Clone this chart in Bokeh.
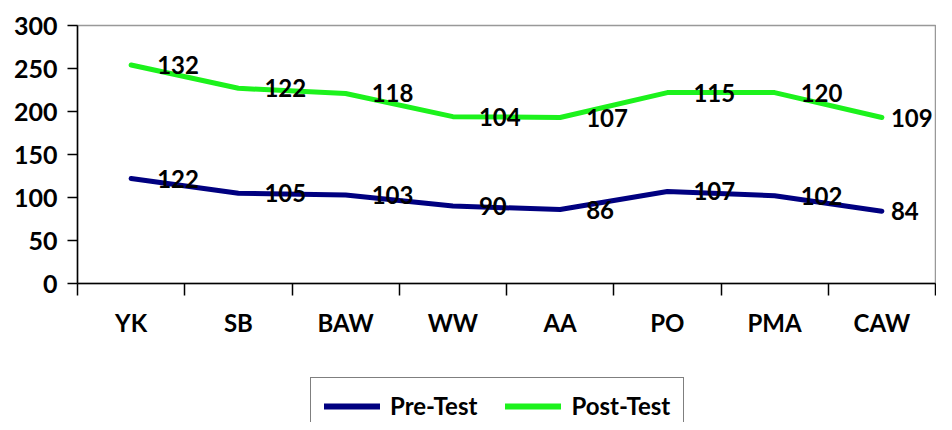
import numpy as np
from bokeh.plotting import figure
from bokeh.layouts import column
from bokeh.models import (ColumnDataSource, FixedTicker, LinearAxis, Range1d,
                          LabelSet, Legend, LegendItem)
from bokeh.core.properties import value
from bokeh.embed import file_html
from bokeh.resources import INLINE

categories = ["YK", "SB", "BAW", "WW", "AA", "PO", "PMA", "CAW"]
pre_test = [122, 105, 103, 90, 86, 107, 102, 84]
post_test = [132, 122, 118, 104, 107, 115, 120, 109]
y_ticks = [0, 50, 100, 150, 200, 250, 300]
series_names = ["Pre-Test", "Post-Test"]
series_colors = ["#000080", "#1CF21C"]

FONT = "Lato"
n = len(categories)
x = np.arange(n) + 0.5
pre = np.array(pre_test)
post_stacked = pre + np.array(post_test)
# data labels sit right of each point; the last one is nudged to stay inside
label_dx = [26] * (n - 1) + [9]

src = ColumnDataSource(dict(
    x=x, pre=pre, post=post_stacked, dx=label_dx,
    pre_lbl=[str(v) for v in pre_test],
    post_lbl=[str(v) for v in post_test],
))

W = 936
LEFT = 77
H1 = 374
p = figure(width=W, height=H1, output_backend="svg", toolbar_location=None,
           x_range=Range1d(0, n), y_range=Range1d(0, 300),
           x_axis_type=None, y_axis_type=None,
           min_border_left=LEFT, min_border_right=1, min_border_top=25,
           min_border_bottom=H1 - 283)
p.outline_line_color = "#999999"
p.outline_line_width = 1.5

# Y axis
yax = LinearAxis(ticker=FixedTicker(ticks=y_ticks))
yax.axis_line_color = "black"
yax.axis_line_width = 1.5
yax.major_tick_line_color = "black"
yax.major_tick_line_width = 1.5
yax.major_tick_out = 10
yax.major_tick_in = 0
yax.minor_tick_line_color = None
yax.major_label_standoff = 10
yax.major_label_text_font = FONT
yax.major_label_text_font_style = "bold"
yax.major_label_text_font_size = "25px"
yax.major_label_text_color = "black"
p.add_layout(yax, "left")

# X axis: labels at category centres, ticks at category boundaries
xax = LinearAxis(ticker=FixedTicker(ticks=list(x), minor_ticks=list(range(n + 1))))
xax.major_label_overrides = {float(v): c for v, c in zip(x, categories)}
xax.axis_line_color = "black"
xax.axis_line_width = 1.5
xax.major_tick_line_color = None
xax.major_tick_out = 0
xax.major_tick_in = 0
xax.minor_tick_line_color = "black"
xax.minor_tick_line_width = 1.5
xax.minor_tick_out = 12
xax.minor_tick_in = 0
xax.major_label_standoff = 12
xax.major_label_text_font = FONT
xax.major_label_text_font_style = "bold"
xax.major_label_text_font_size = "24px"
xax.major_label_text_color = "black"
p.add_layout(xax, "below")

p.ygrid.ticker = FixedTicker(ticks=y_ticks)
p.ygrid.grid_line_color = "black"
p.ygrid.grid_line_width = 1.5
p.xgrid.grid_line_color = None

for ycol, col in zip(("pre", "post"), series_colors):
    p.line("x", ycol, source=src, line_color=col, line_width=5,
           line_cap="round", line_join="round")

for ycol, lcol in (("pre", "pre_lbl"), ("post", "post_lbl")):
    p.add_layout(LabelSet(x="x", y=ycol, text=lcol, source=src, x_offset="dx",
                          text_baseline="middle", text_align="left",
                          text_font=value(FONT), text_font_style="bold",
                          text_font_size="24px", text_color="black"))

# Legend in its own strip below the chart (same series, drawn out of view)
H2 = 422 - H1
lg = figure(width=W, height=H2, output_backend="svg", toolbar_location=None,
            x_range=Range1d(0, n), y_range=Range1d(1000, 1001),
            x_axis_type=None, y_axis_type=None,
            min_border_left=LEFT, min_border_right=1, min_border_top=0,
            min_border_bottom=0)
lg.outline_line_color = None
lg.grid.visible = False
items = []
for name, col, ycol in zip(series_names, series_colors, ("pre", "post")):
    r = lg.line("x", ycol, source=src, line_color=col, line_width=6,
                line_cap="round")
    items.append(LegendItem(label=name, renderers=[r]))
legend = Legend(items=items, orientation="horizontal",
                location=(310 - LEFT, H2 - 4 - 56),
                glyph_width=56, glyph_height=20, label_text_font=FONT,
                label_text_font_style="bold", label_text_font_size="24px",
                label_text_color="black",
                label_standoff=10, spacing=28, padding=13, margin=0,
                border_line_color="black", border_line_width=1.5,
                background_fill_alpha=1.0)
lg.add_layout(legend, "center")

layout = column(p, lg, spacing=0)
open("out.html", "w").write(file_html(layout, INLINE))
